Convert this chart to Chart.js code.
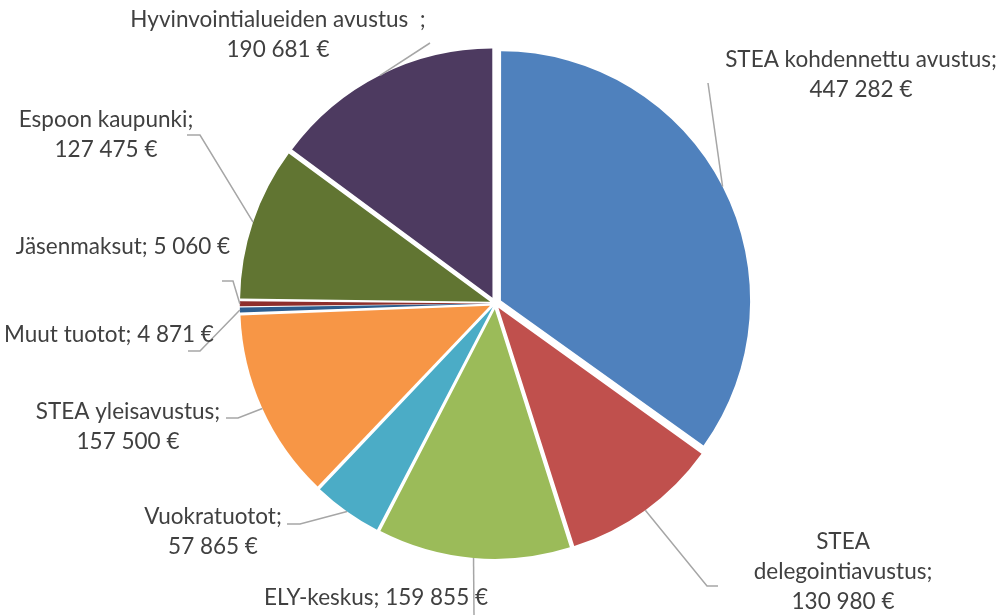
<!DOCTYPE html>
<html>
<head>
<meta charset="utf-8">
<script src="https://cdn.jsdelivr.net/npm/chart.js@4.4.0/dist/chart.umd.min.js"></script>
<style>
  html, body { margin: 0; padding: 0; background: #fff; }
  #wrap { width: 1003px; height: 615px; }
</style>
</head>
<body>
<div id="wrap"><canvas id="pie" width="1003" height="615"></canvas></div>
<script>
const categories = [
  'STEA kohdennettu avustus',
  'STEA delegointiavustus',
  'ELY-keskus',
  'Vuokratuotot',
  'STEA yleisavustus',
  'Muut tuotot',
  'Jäsenmaksut',
  'Espoon kaupunki',
  'Hyvinvointialueiden avustus'
];
const values = [447282, 130980, 159855, 57865, 157500, 4871, 5060, 127475, 190681];

// text lines of each label, as in the original
const labelLines = [
  ['STEA kohdennettu avustus;', '447 282 €'],
  ['STEA', 'delegointiavustus;', '130 980 €'],
  ['ELY-keskus; 159 855 €'],
  ['Vuokratuotot;', '57 865 €'],
  ['STEA yleisavustus;', '157 500 €'],
  ['Muut tuotot; 4 871 €'],
  ['Jäsenmaksut; 5 060 €'],
  ['Espoon kaupunki;', '127 475 €'],
  ['Hyvinvointialueiden avustus  ;', '190 681 €']
];

const colors = ['#4F81BD', '#C0504D', '#9BBB59', '#4BACC6', '#F79646', '#2C5D8F', '#8E2F2C', '#617532', '#4D3A60'];

// label layout: centre x, y of first line; leader line bend points after the arc anchor
const labelPos = [[861, 60], [843, 542], [376, 598], [213, 517], [128, 412], [109, 335], [123, 247], [106, 120], [278, 20]];
const leaderPts = [
  [[708, 83]],
  [[707, 586], [718, 586]],
  [[474, 615]],
  [[300, 524], [287, 524]],
  [[238, 418], [226, 418]],
  [[200, 351], [188, 351]],
  [[233, 281], [222, 281]],
  [[200, 135], [187, 135]],
  [[430, 43]]
];

const total = values.reduce((a, b) => a + b, 0);
const explode = 7.5;

// chart.js moves an arc by offset/4*(1+fix); pick offset so every slice moves the same
function sliceOffset(ctx) {
  const circ = values[ctx.dataIndex] / total * Math.PI * 2;
  const fix = 1 - Math.sin(Math.min(Math.PI, circ));
  return 4 * explode / (1 + fix);
}

const labelPlugin = {
  id: 'pieLabels',
  afterDatasetsDraw(chart) {
    const ctx = chart.ctx;
    const meta = chart.getDatasetMeta(0);
    ctx.save();
    meta.data.forEach((arc, i) => {
      const p = arc.getProps(['x', 'y', 'startAngle', 'endAngle', 'outerRadius']);
      const mid = (p.startAngle + p.endAngle) / 2;
      const off = arc.options.offset / 4;
      const circ = p.endAngle - p.startAngle;
      const t = off * (2 - Math.sin(Math.min(Math.PI, circ)));
      const ax = p.x + Math.cos(mid) * (p.outerRadius + t);
      const ay = p.y + Math.sin(mid) * (p.outerRadius + t);
      ctx.beginPath();
      ctx.moveTo(ax, ay);
      leaderPts[i].forEach(pt => ctx.lineTo(pt[0], pt[1]));
      ctx.strokeStyle = '#A6A6A6';
      ctx.lineWidth = 1.5;
      ctx.stroke();
    });
    ctx.fillStyle = '#404040';
    ctx.font = '22.5px Lato, "Open Sans", sans-serif';
    ctx.textAlign = 'center';
    ctx.textBaseline = 'middle';
    labelLines.forEach((lines, i) => {
      lines.forEach((s, j) => {
        ctx.fillText(s, labelPos[i][0], labelPos[i][1] + j * 30);
      });
    });
    ctx.restore();
  }
};

new Chart(document.getElementById('pie'), {
  type: 'pie',
  data: {
    labels: categories,
    datasets: [{
      data: values,
      backgroundColor: colors,
      borderWidth: 0,
      offset: sliceOffset
    }]
  },
  options: {
    responsive: false,
    animation: false,
    events: [],
    radius: 248,
    layout: { padding: { left: 0, right: 12.4, top: 0, bottom: 8.2 } },
    plugins: { legend: { display: false }, tooltip: { enabled: false } }
  },
  plugins: [labelPlugin]
});
</script>
</body>
</html>
